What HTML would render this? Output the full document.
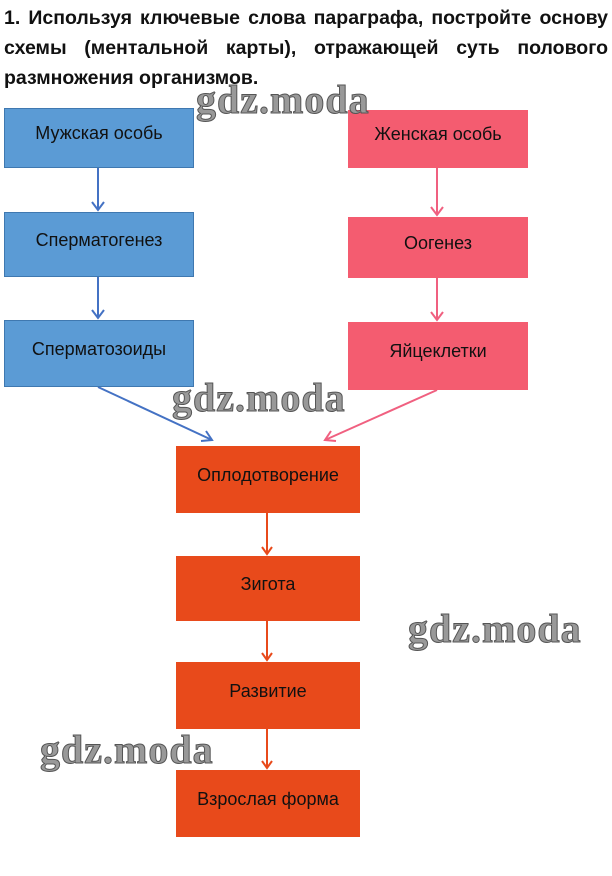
<!DOCTYPE html>
<html><head><meta charset="utf-8"><style>
body{margin:0;width:612px;height:876px;background:#fff;position:relative;overflow:hidden;font-family:"Liberation Sans",sans-serif}
.t{position:absolute;left:4px;width:604px;font-weight:bold;font-size:19.5px;line-height:30px;text-align:justify;text-align-last:justify;color:#111;top:3px}
.b{position:absolute;display:flex;align-items:center;justify-content:center;font-size:18px;color:#111;box-sizing:border-box;padding-bottom:9px}
.bl{background:#5b9bd5;border:1px solid #3f78b0}
.pk{background:#f45c70}
.or{background:#e84a1b}
.w{position:absolute;font-family:"Liberation Serif",serif;font-weight:bold;font-size:40px;color:#999;-webkit-text-stroke:1px #555;letter-spacing:1px}
</style></head><body>
<div class="t">1. Используя ключевые слова параграфа, постройте основу<br>схемы (ментальной карты), отражающей суть полового<br><span style="display:inline-block;text-align-last:left">размножения организмов.</span></div>
<svg style="position:absolute;left:0;top:0" width="612" height="876">
<g stroke="#4472c4" stroke-width="2" fill="none">
<line x1="98" y1="168" x2="98" y2="210"/><polyline points="92,202 98,210 104,202"/>
<line x1="98" y1="277" x2="98" y2="318"/><polyline points="92,310 98,318 104,310"/>
<line x1="98" y1="387" x2="212" y2="440"/><polyline points="201,441 212,440 206,431"/>
</g>
<g stroke="#f06080" stroke-width="2" fill="none">
<line x1="437" y1="168" x2="437" y2="215"/><polyline points="431,207 437,215 443,207"/>
<line x1="437" y1="278" x2="437" y2="320"/><polyline points="431,312 437,320 443,312"/>
<line x1="437" y1="390" x2="325" y2="440"/><polyline points="331,431 325,440 336,441"/>
</g>
<g stroke="#e84a1b" stroke-width="2" fill="none">
<line x1="267" y1="513" x2="267" y2="554"/><polyline points="262,547 267,554 272,547"/>
<line x1="267" y1="621" x2="267" y2="660"/><polyline points="262,653 267,660 272,653"/>
<line x1="267" y1="729" x2="267" y2="768"/><polyline points="262,761 267,768 272,761"/>
</g>
</svg>
<div class="b bl" style="left:4px;top:108px;width:190px;height:60px">Мужская особь</div>
<div class="b bl" style="left:4px;top:212px;width:190px;height:65px">Сперматогенез</div>
<div class="b bl" style="left:4px;top:320px;width:190px;height:67px">Сперматозоиды</div>
<div class="b pk" style="left:348px;top:110px;width:180px;height:58px">Женская особь</div>
<div class="b pk" style="left:348px;top:217px;width:180px;height:61px">Оогенез</div>
<div class="b pk" style="left:348px;top:322px;width:180px;height:68px">Яйцеклетки</div>
<div class="b or" style="left:176px;top:446px;width:184px;height:67px">Оплодотворение</div>
<div class="b or" style="left:176px;top:556px;width:184px;height:65px">Зигота</div>
<div class="b or" style="left:176px;top:662px;width:184px;height:67px">Развитие</div>
<div class="b or" style="left:176px;top:770px;width:184px;height:67px">Взрослая форма</div>
<div class="w" style="left:196px;top:76px">gdz.moda</div>
<div class="w" style="left:172px;top:374px">gdz.moda</div>
<div class="w" style="left:408px;top:605px">gdz.moda</div>
<div class="w" style="left:40px;top:726px">gdz.moda</div>
</body></html>
